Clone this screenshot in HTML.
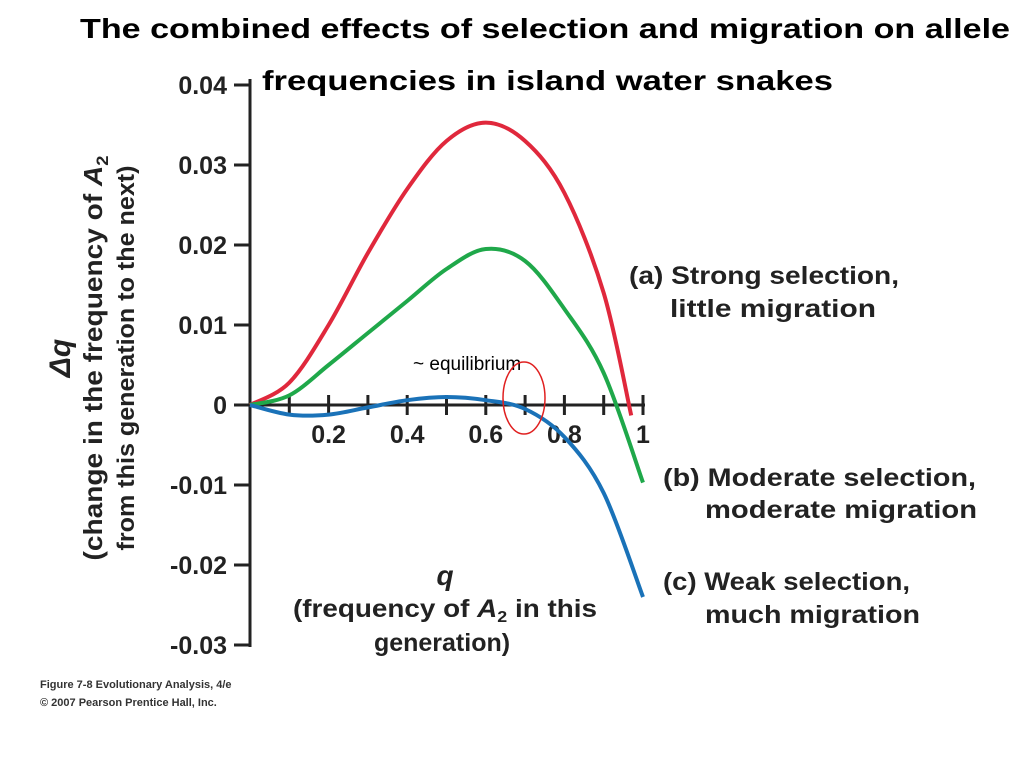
<!DOCTYPE html>
<html><head><meta charset="utf-8"><style>
body{margin:0;background:#fff;width:1024px;height:768px;overflow:hidden}
svg text{font-family:"Liberation Sans",sans-serif}
</style></head><body>
<svg width="1024" height="768">
<text x="80" y="38" font-size="28" font-weight="bold" textLength="930" lengthAdjust="spacingAndGlyphs">The combined effects of selection and migration on allele</text>
<text x="262" y="90" font-size="28" font-weight="bold" textLength="571" lengthAdjust="spacingAndGlyphs">frequencies  in island water snakes</text>
<g id="axes"></g>
<g id="curves"></g>
<g transform="translate(70,358) rotate(-90)" font-weight="bold" fill="#222">
<text x="0" y="0" text-anchor="middle" font-size="30" font-style="italic">Δq</text>
<text x="0" y="32" text-anchor="middle" font-size="26" textLength="405" lengthAdjust="spacingAndGlyphs">(change in the frequency of <tspan font-style="italic">A</tspan><tspan font-size="17" dy="6">2</tspan></text>
<text x="0" y="64" text-anchor="middle" font-size="24" textLength="385" lengthAdjust="spacingAndGlyphs">from this generation to the next)</text>
</g>
<g font-weight="bold" fill="#222" text-anchor="middle">
<text x="445" y="585" font-size="28" font-style="italic">q</text>
<text x="445" y="617" font-size="25" textLength="304" lengthAdjust="spacingAndGlyphs">(frequency of <tspan font-style="italic">A</tspan><tspan font-size="16" dy="5">2</tspan><tspan dy="-5"> in this</tspan></text>
<text x="442" y="651" font-size="25">generation)</text>
</g>
<g font-weight="bold" fill="#222" font-size="25">
<text x="629" y="284" textLength="270" lengthAdjust="spacingAndGlyphs">(a) Strong selection,</text>
<text x="670" y="317" textLength="206" lengthAdjust="spacingAndGlyphs">little migration</text>
<text x="663" y="486" textLength="313" lengthAdjust="spacingAndGlyphs">(b) Moderate selection,</text>
<text x="705" y="518" textLength="272" lengthAdjust="spacingAndGlyphs">moderate migration</text>
<text x="663" y="590" textLength="247" lengthAdjust="spacingAndGlyphs">(c) Weak selection,</text>
<text x="705" y="623" textLength="215" lengthAdjust="spacingAndGlyphs">much migration</text>
</g>
<text x="413" y="370" font-size="19">~ equilibrium</text>
<ellipse cx="524" cy="398" rx="21" ry="36" fill="none" stroke="#e02020" stroke-width="1.5"/>
<text x="40" y="688" font-size="11" font-weight="bold" fill="#333">Figure 7-8  Evolutionary Analysis, 4/e</text>
<text x="40" y="706" font-size="11" font-weight="bold" fill="#333">© 2007 Pearson Prentice Hall, Inc.</text>
</svg>
<script>
const yTicks=[0.04,0.03,0.02,0.01,0,-0.01,-0.02,-0.03];
const yTickLabels=["0.04","0.03","0.02","0.01","0","-0.01","-0.02","-0.03"];
const xTicks=[0.1,0.2,0.3,0.4,0.5,0.6,0.7,0.8,0.9,1];
const xTickLabels=["0.2","0.4","0.6","0.8","1"];
const xLabelVals=[0.2,0.4,0.6,0.8,1];
const qA=[0,0.1,0.2,0.3,0.4,0.5,0.6,0.7,0.8,0.9,0.97];
const dqA=[0,0.0028,0.010,0.019,0.027,0.033,0.0353,0.033,0.0265,0.014,-0.0013];
const qB=[0,0.1,0.2,0.3,0.4,0.5,0.6,0.7,0.8,0.9,1];
const dqB=[0,0.0012,0.005,0.009,0.013,0.017,0.0195,0.018,0.012,0.004,-0.0097];
const qC=[0,0.1,0.2,0.3,0.4,0.5,0.6,0.7,0.8,0.9,1];
const dqC=[0,-0.0012,-0.0012,-0.0003,0.0006,0.001,0.0006,-0.0005,-0.004,-0.011,-0.024];
const X=q=>250+q*393;
const Y=v=>405-v*8000;
const NS="http://www.w3.org/2000/svg";
const axes=document.getElementById('axes'),curves=document.getElementById('curves');
function mk(tag,attrs,parent){const e=document.createElementNS(NS,tag);for(const k in attrs)e.setAttribute(k,attrs[k]);parent.appendChild(e);return e;}
const ya=mk('line',{x1:250,x2:250,y1:Y(0.04)-6,y2:Y(-0.03)+2,stroke:'#222','stroke-width':3},axes);


const xa=mk('line',{x1:250,x2:X(1)+2,y1:Y(0),y2:Y(0),stroke:'#222','stroke-width':3},axes);


yTicks.forEach((v,i)=>{
 const t=mk('line',{x1:234,x2:250,y1:Y(v),y2:Y(v),stroke:'#222','stroke-width':3},axes);
 
 
 const l=mk('text',{x:227,y:Y(v)+9,'text-anchor':'end','font-size':25,'font-weight':'bold',fill:'#222'},axes);
 l.textContent=yTickLabels[i];
 
 
});
xTicks.forEach(v=>{
 const t=mk('line',{x1:X(v),x2:X(v),y1:Y(0)-10,y2:Y(0)+10,stroke:'#222','stroke-width':3},axes);
 
 
});
xLabelVals.forEach((v,i)=>{
 const l=mk('text',{x:X(v),y:Y(0)+38,'text-anchor':'middle','font-size':25,'font-weight':'bold',fill:'#222'},axes);
 l.textContent=xTickLabels[i];
 
 
});
function path(qs,vs){
 const p=qs.map((q,i)=>[X(q),Y(vs[i])]);
 let d='M'+p[0][0]+','+p[0][1];
 for(let i=0;i<p.length-1;i++){
  const p0=p[i-1]||p[i],p1=p[i],p2=p[i+1],p3=p[i+2]||p2;
  const c1=[p1[0]+(p2[0]-p0[0])/6,p1[1]+(p2[1]-p0[1])/6];
  const c2=[p2[0]-(p3[0]-p1[0])/6,p2[1]-(p3[1]-p1[1])/6];
  d+=' C'+c1+' '+c2+' '+p2;
 }
 return d;
}
const ca=mk('path',{d:path(qA,dqA),fill:'none',stroke:'#e0283c','stroke-width':4},curves);


const cb=mk('path',{d:path(qB,dqB),fill:'none',stroke:'#1fa84a','stroke-width':4},curves);


const cc=mk('path',{d:path(qC,dqC),fill:'none',stroke:'#1a72b8','stroke-width':4},curves);


</script>
</body></html>
